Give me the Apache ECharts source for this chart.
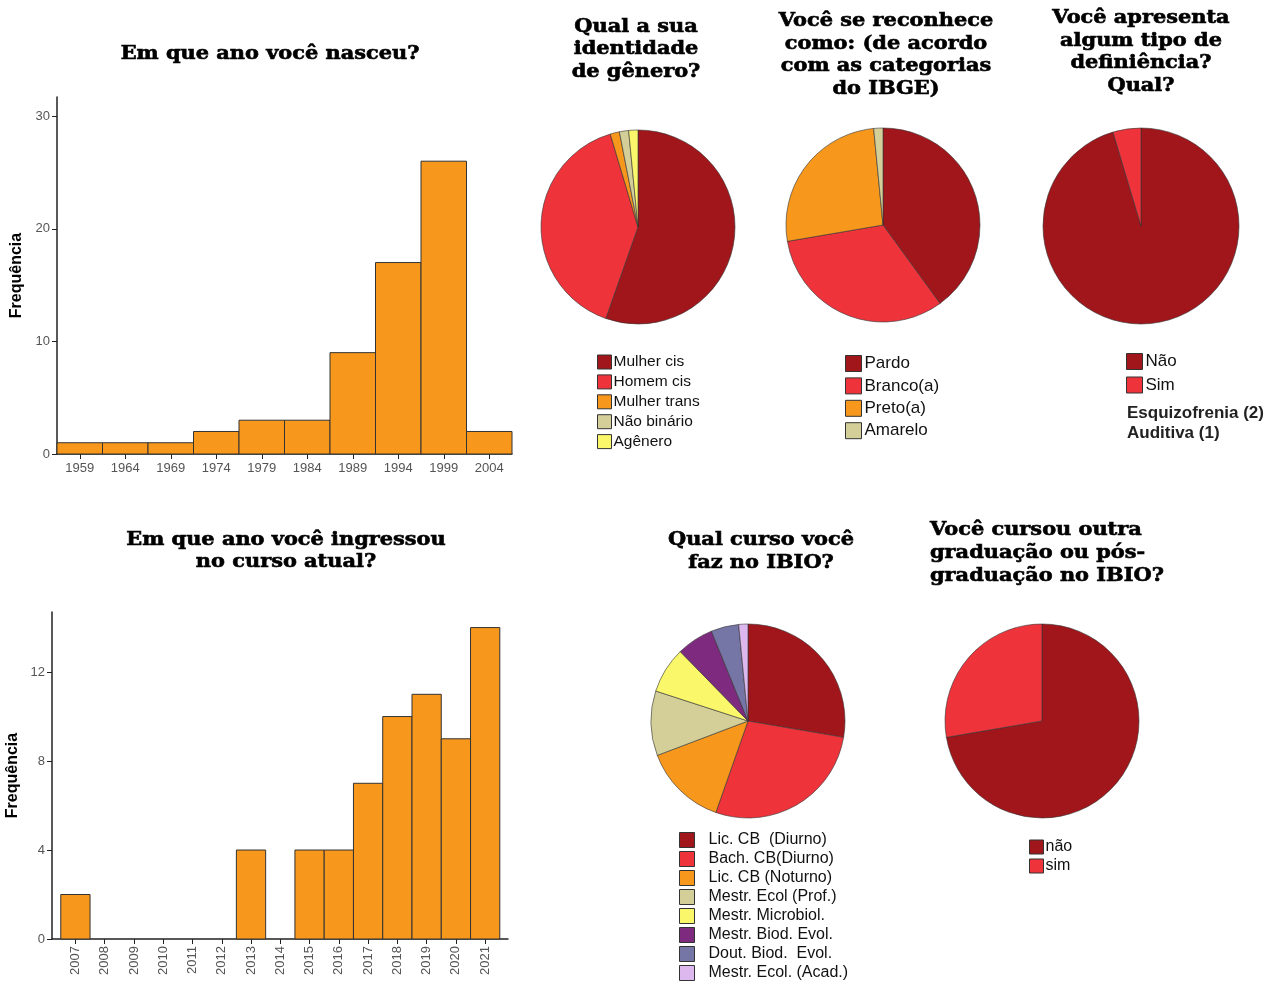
<!DOCTYPE html>
<html>
<head>
<meta charset="utf-8">
<script src="https://cdn.jsdelivr.net/npm/echarts@6/dist/echarts.min.js"></script>
<style>
  html, body { margin: 0; padding: 0; background: #fff; }
  #main { width: 1271px; height: 981px; }
</style>
</head>
<body>
<div id="main"></div>
<script>
// Birth year histogram (5-year bins, labelled by bin centre)
const birthBins = [1959, 1964, 1969, 1974, 1979, 1984, 1989, 1994, 1999, 2004];
const birthCounts = [1, 1, 1, 2, 3, 3, 9, 17, 26, 2];
const birthBinWidth = 5;

// Year of entry into the current course
const entryYears = [2007, 2008, 2009, 2010, 2011, 2012, 2013, 2014, 2015, 2016, 2017, 2018, 2019, 2020, 2021];
const entryCounts = [2, 0, 0, 0, 0, 0, 4, 0, 4, 4, 7, 10, 11, 9, 14];
const entryBinWidth = 1;

// Pie questions
const genderNames = ['Mulher cis', 'Homem cis', 'Mulher trans', 'Não binário', 'Agênero'];
const genderCounts = [36, 26, 1, 1, 1];

const raceNames = ['Pardo', 'Branco(a)', 'Preto(a)', 'Amarelo'];
const raceCounts = [26, 21, 17, 1];

const disabilityNames = ['Não', 'Sim'];
const disabilityCounts = [62, 3];
const disabilityDetails = ['Esquizofrenia (2)', 'Auditiva (1)'];

const courseNames = ['Lic. CB  (Diurno)', 'Bach. CB(Diurno)', 'Lic. CB (Noturno)', 'Mestr. Ecol (Prof.)',
  'Mestr. Microbiol.', 'Mestr. Biod. Evol.', 'Dout. Biod.  Evol.', 'Mestr. Ecol. (Acad.)'];
const courseCounts = [18, 18, 9, 7, 5, 4, 3, 1];

const otherDegreeNames = ['não', 'sim'];
const otherDegreeCounts = [47, 18];

// Tick values
const birthTicks = [0, 10, 20, 30];
const entryTicks = [0, 4, 8, 12];

// Palette
const C = {
  darkRed: '#A0161B', red: '#EF333B', orange: '#F7981D', tan: '#D4CF98',
  yellow: '#FBF76A', purple: '#7E2A7E', slate: '#7676A6', lilac: '#DDB8EE'
};
const pieColors = [C.darkRed, C.red, C.orange, C.tan, C.yellow, C.purple, C.slate, C.lilac];

const TITLE_FONT = '"DejaVu Serif", serif';
const BODY_FONT = '"Liberation Sans", Arial, sans-serif';

function binRenderer(halfWidth) {
  return function (params, api) {
    const x = api.value(0), y = api.value(1);
    if (!y) return null;
    const p0 = api.coord([x - halfWidth, y]);
    const p1 = api.coord([x + halfWidth, 0]);
    return {
      type: 'rect',
      shape: { x: p0[0], y: p0[1], width: p1[0] - p0[0], height: p1[1] - p0[1] },
      style: { fill: C.orange, stroke: '#333', lineWidth: 1 }
    };
  };
}

function pieData(names, counts) {
  return names.map((n, i) => ({ name: n, value: counts[i], itemStyle: { color: pieColors[i] } }));
}

function pieSeries(names, counts, center, radius) {
  return {
    type: 'pie', center: center, radius: radius, startAngle: 90, clockwise: true,
    data: pieData(names, counts), label: { show: false }, labelLine: { show: false },
    itemStyle: { borderColor: '#333', borderWidth: 0.6 },
    emphasis: { disabled: true }, silent: true
  };
}

function legend(names, left, top, size, gap, fontSize, textPad) {
  return {
    orient: 'vertical', left: left, top: top, height: 300, data: names,
    icon: 'rect', itemWidth: size, itemHeight: size, itemGap: gap, padding: 0,
    itemStyle: { borderColor: '#333', borderWidth: 1 },
    textStyle: { fontFamily: BODY_FONT, fontSize: fontSize, color: '#111', padding: [0, 0, 0, textPad] },
    selectedMode: false
  };
}

// Question headings: wide, heavy display lettering
function heading(text, x, y, align, lh) {
  return {
    type: 'text', x: x, y: y, scaleX: 1.16, silent: true,
    style: {
      text: text, textAlign: align, textVerticalAlign: 'top',
      fontFamily: TITLE_FONT, fontWeight: 'bold', fontSize: 18, lineHeight: lh,
      fill: '#000', stroke: '#000', lineWidth: 0.6
    }
  };
}

const axisLabelStyle = { color: '#555', fontFamily: BODY_FONT, fontSize: 13 };
const axisLineStyle = { lineStyle: { color: '#222', width: 1.5 } };
const axisNameStyle = { fontFamily: BODY_FONT, fontWeight: 'bold', fontSize: 16, color: '#000' };

const option = {
  animation: false,
  backgroundColor: '#fff',
  grid: [
    { left: 57, top: 97, width: 455, height: 357 },
    { left: 52, top: 612, width: 456, height: 327 }
  ],
  xAxis: [
    {
      gridIndex: 0, type: 'value', min: 1956.5, max: 2006.5,
      axisLine: axisLineStyle, splitLine: { show: false },
      axisTick: { show: true, length: 5, lineStyle: { color: '#222' }, customValues: birthBins },
      axisLabel: { ...axisLabelStyle, margin: 8, customValues: birthBins, formatter: v => String(v) }
    },
    {
      gridIndex: 1, type: 'value', min: 2006.2, max: 2021.78,
      axisLine: axisLineStyle, splitLine: { show: false },
      axisTick: { show: true, length: 5, lineStyle: { color: '#222' }, customValues: entryYears },
      axisLabel: { ...axisLabelStyle, rotate: 90, margin: 7, customValues: entryYears, formatter: v => String(v) }
    }
  ],
  yAxis: [
    {
      gridIndex: 0, type: 'value', min: 0, max: 31.7,
      name: 'Frequência', nameLocation: 'middle', nameGap: 32, nameTextStyle: axisNameStyle,
      axisLine: { show: true, ...axisLineStyle }, splitLine: { show: false },
      axisTick: { show: true, length: 5, lineStyle: { color: '#222' }, customValues: birthTicks },
      axisLabel: { ...axisLabelStyle, margin: 7, customValues: birthTicks }
    },
    {
      gridIndex: 1, type: 'value', min: 0, max: 14.7,
      name: 'Frequência', nameLocation: 'middle', nameGap: 31, nameTextStyle: axisNameStyle,
      axisLine: { show: true, ...axisLineStyle }, splitLine: { show: false },
      axisTick: { show: true, length: 5, lineStyle: { color: '#222' }, customValues: entryTicks },
      axisLabel: { ...axisLabelStyle, margin: 7, customValues: entryTicks }
    }
  ],
  legend: [
    legend(genderNames, 597, 354, 14, 3.9, 15.5, -3),
    legend(raceNames, 845, 355, 16, 5.4, 17, -2),
    legend(disabilityNames, 1126, 353, 16, 6.5, 17, -2),
    legend(courseNames, 679, 832, 15, 3, 16, 9),
    legend(otherDegreeNames, 1029, 839, 14, 3, 16, -3)
  ],
  graphic: [
    heading('Em que ano você nasceu?', 270, 43, 'center', 22),
    heading('Em que ano você ingressou\nno curso atual?', 286, 529, 'center', 22),
    heading('Qual a sua\nidentidade\nde gênero?', 636, 16, 'center', 22.5),
    heading('Você se reconhece\ncomo: (de acordo\ncom as categorias\ndo IBGE)', 886, 10, 'center', 22.6),
    heading('Você apresenta\nalgum tipo de\ndefiniência?\nQual?', 1141, 7, 'center', 22.7),
    heading('Qual curso você\nfaz no IBIO?', 761, 529, 'center', 23),
    heading('Você cursou outra\ngraduação ou pós-\ngraduação no IBIO?', 930, 519, 'left', 23),
    {
      type: 'text', x: 1127, y: 403, silent: true,
      style: {
        text: disabilityDetails.join('\n'), textVerticalAlign: 'top', fontFamily: BODY_FONT, fontWeight: 'bold',
        fontSize: 17, lineHeight: 20, fill: '#222'
      }
    }
  ],
  series: [
    {
      type: 'custom', xAxisIndex: 0, yAxisIndex: 0, renderItem: binRenderer(birthBinWidth / 2),
      data: birthBins.map((b, i) => [b, birthCounts[i]]), silent: true
    },
    {
      type: 'custom', xAxisIndex: 1, yAxisIndex: 1, renderItem: binRenderer(entryBinWidth / 2),
      data: entryYears.map((y, i) => [y, entryCounts[i]]), silent: true
    },
    pieSeries(genderNames, genderCounts, [638, 227], 97),
    pieSeries(raceNames, raceCounts, [883, 225], 97),
    pieSeries(disabilityNames, disabilityCounts, [1141, 226], 98),
    pieSeries(courseNames, courseCounts, [748, 721], 97),
    pieSeries(otherDegreeNames, otherDegreeCounts, [1042, 721], 97)
  ]
};

const chart = echarts.init(document.getElementById('main'), null, { renderer: 'canvas' });
chart.setOption(option);
</script>
</body>
</html>
